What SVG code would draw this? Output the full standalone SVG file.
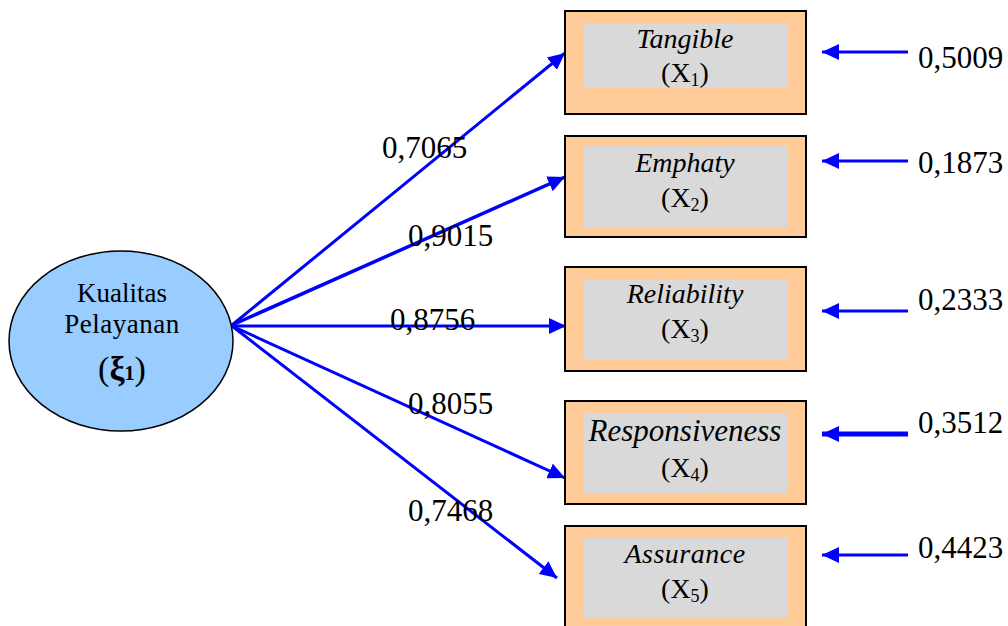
<svg xmlns="http://www.w3.org/2000/svg" width="1008" height="626" viewBox="0 0 1008 626">
<style>
.t{font-family:"Liberation Serif",Tinos,"Times New Roman","DejaVu Serif",serif;fill:#000}
.num{font-size:31px}
.lbl{font-size:28px;font-style:italic}
.big{font-size:31px}
.x{font-size:28px}
.sub{font-size:18px}
.outer{fill:#FFCC99;stroke:#000;stroke-width:2}
.inner{fill:#D9D9D9}
.con{stroke:#0000FF;stroke-width:3;fill:none}
</style>
<defs>
<marker id="ah" markerUnits="userSpaceOnUse" markerWidth="18" markerHeight="16" refX="17" refY="8" orient="auto">
<path d="M0,0 L17,8 L0,16 z" fill="#0000FF"/>
</marker>
</defs>
<rect width="1008" height="626" fill="#fff"/>
<g id="connectors">
<line class="con" x1="232" y1="325" x2="565" y2="53" marker-end="url(#ah)"/>
<line class="con" x1="232" y1="325" x2="565" y2="177" marker-end="url(#ah)" style="stroke-width:3.5"/>
<line class="con" x1="232" y1="326" x2="566" y2="326" marker-end="url(#ah)"/>
<line class="con" x1="232" y1="326" x2="565" y2="478" marker-end="url(#ah)"/>
<line class="con" x1="232" y1="326" x2="557" y2="578" marker-end="url(#ah)"/>
<line class="con" x1="908" y1="52" x2="822" y2="52" marker-end="url(#ah)"/>
<line class="con" x1="908" y1="161" x2="822" y2="161" marker-end="url(#ah)"/>
<line class="con" x1="908" y1="311" x2="822" y2="311" marker-end="url(#ah)"/>
<line class="con" x1="908" y1="434" x2="822" y2="434" marker-end="url(#ah)" style="stroke-width:5"/>
<line class="con" x1="908" y1="555" x2="822" y2="555" marker-end="url(#ah)"/>
<text class="t num" x="382" y="158">0,7065</text>
<text class="t num" x="408" y="246">0,9015</text>
<text class="t num" x="390" y="330">0,8756</text>
<text class="t num" x="408" y="414">0,8055</text>
<text class="t num" x="408" y="521">0,7468</text>
<text class="t num" x="918" y="68">0,5009</text>
<text class="t num" x="918" y="173">0,1873</text>
<text class="t num" x="918" y="310">0,2333</text>
<text class="t num" x="918" y="433">0,3512</text>
<text class="t num" x="918" y="558">0,4423</text>
</g>
<g id="xi1">
<ellipse cx="121" cy="341" rx="112" ry="90" fill="#99CCFF" stroke="#000" stroke-width="1.5"/>
<text class="t" x="122" y="302" font-size="27" text-anchor="middle">Kualitas</text>
<text class="t" x="122" y="333" font-size="27" text-anchor="middle" letter-spacing="0.5">Pelayanan</text>
<text class="t" x="122" y="380" font-size="34" text-anchor="middle">(<tspan font-weight="bold">ξ</tspan><tspan font-weight="bold" font-size="20">1</tspan>)</text>
</g>
<g id="x1">
<rect class="outer" x="565" y="11" width="241" height="103"/>
<rect class="inner" x="583" y="23" width="204" height="65"/>
<text class="t lbl" x="685" y="48" text-anchor="middle">Tangible</text>
<text class="t x" x="685" y="82" text-anchor="middle">(X<tspan class="sub" dy="4">1</tspan><tspan dy="-4">)</tspan></text>
</g>
<g id="x2">
<rect class="outer" x="565" y="136" width="241" height="101"/>
<rect class="inner" x="583" y="146" width="204" height="81"/>
<text class="t lbl" x="685" y="172" text-anchor="middle">Emphaty</text>
<text class="t x" x="685" y="207" text-anchor="middle">(X<tspan class="sub" dy="4">2</tspan><tspan dy="-4">)</tspan></text>
</g>
<g id="x3">
<rect class="outer" x="565" y="267" width="241" height="104"/>
<rect class="inner" x="583" y="279" width="204" height="80"/>
<text class="t lbl" x="685" y="303" text-anchor="middle">Reliability</text>
<text class="t x" x="685" y="338" text-anchor="middle">(X<tspan class="sub" dy="4">3</tspan><tspan dy="-4">)</tspan></text>
</g>
<g id="x4">
<rect class="outer" x="565" y="401" width="241" height="103"/>
<rect class="inner" x="583" y="413" width="204" height="80"/>
<text class="t lbl big" x="685" y="441" text-anchor="middle">Responsiveness</text>
<text class="t x" x="685" y="477" text-anchor="middle">(X<tspan class="sub" dy="4">4</tspan><tspan dy="-4">)</tspan></text>
</g>
<g id="x5">
<rect class="outer" x="565" y="526" width="241" height="106"/>
<rect class="inner" x="583" y="538" width="204" height="80"/>
<text class="t lbl" x="685" y="563" text-anchor="middle" letter-spacing="0.5">Assurance</text>
<text class="t x" x="685" y="598" text-anchor="middle">(X<tspan class="sub" dy="4">5</tspan><tspan dy="-4">)</tspan></text>
</g>
</svg>
